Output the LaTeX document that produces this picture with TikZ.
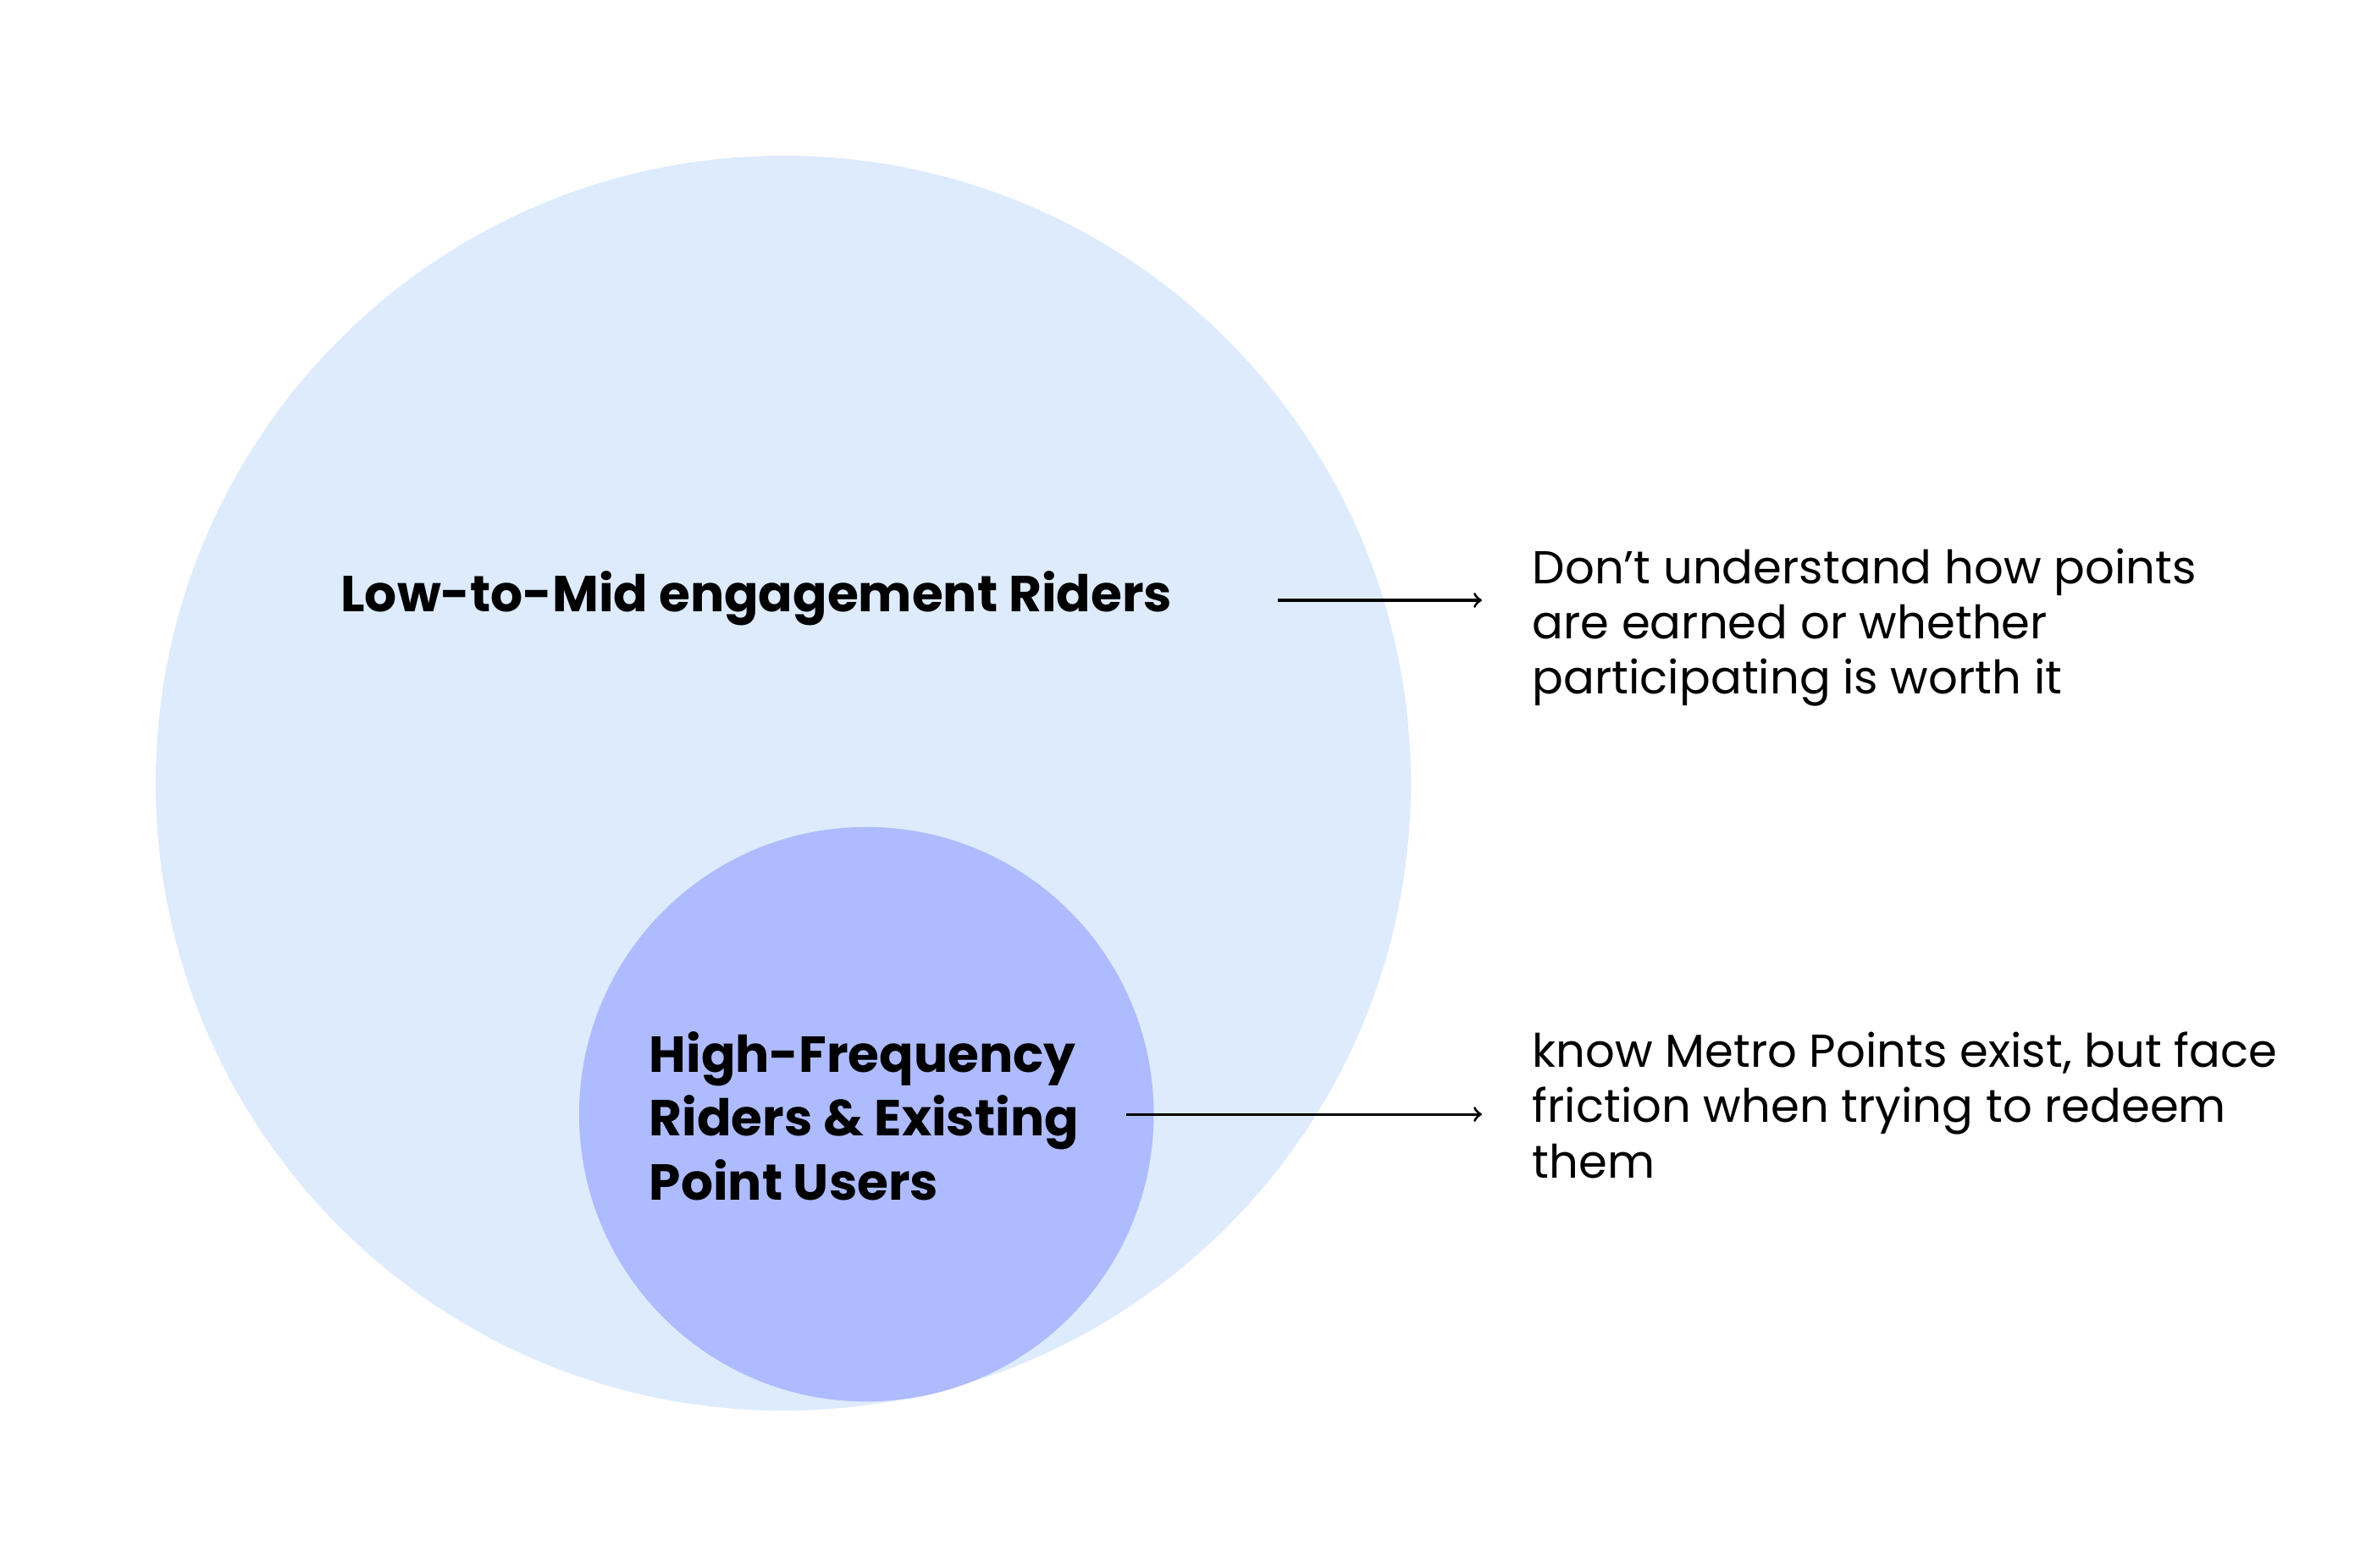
\documentclass[tikz,border=0pt]{standalone}
\usepackage{fontspec}
\setmainfont{Poppins}
\definecolor{bigc}{HTML}{DDEBFD}
\definecolor{smallc}{HTML}{AEBBFE}
\begin{document}
\begin{tikzpicture}[x=0.017857cm,y=-0.017857cm,
  lbl/.style={font=\fontsize{17}{21.5}\selectfont\bfseries,align=left,inner sep=0},
  note/.style={font=\fontsize{15.5}{18.6}\selectfont,align=left,inner sep=0,anchor=west},
  arr/.style={-to,line width=0.9pt}]
\useasboundingbox (0,0) rectangle (1568,1037);
\fill[bigc] (518,518) circle (415);
\fill[smallc] (573,737) circle (190);
\node[lbl,anchor=west] (low) at (225,396) {Low-to-Mid engagement Riders};
\node[lbl,anchor=west] (high) at (429,738) {High-Frequency\\Riders \& Existing\\Point Users};
\node[note] (n1) at (1013,415) {Don’t understand how points\\are earned or whether\\participating is worth it};
\node[note] (n2) at (1013,731) {know Metro Points exist, but face\\friction when trying to redeem\\them};
\coordinate (a1) at (845,397);
\coordinate (b1) at (980,397);
\coordinate (a2) at (745,737);
\coordinate (b2) at (980,737);
\draw[arr] (a1) -- (b1);
\draw[arr] (a2) -- (b2);
\end{tikzpicture}
\end{document}
